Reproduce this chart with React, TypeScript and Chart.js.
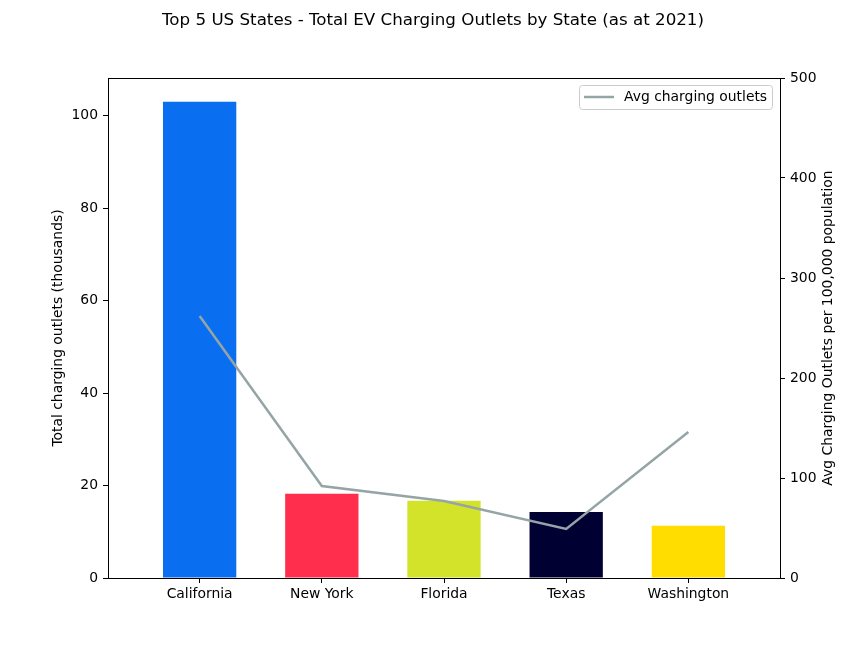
import React, { useEffect, useRef } from "react";
import { Chart, registerables } from "chart.js";

Chart.register(...registerables);

const states = ["California", "New York", "Florida", "Texas", "Washington"];
const totalOutlets = [103.0, 18.2, 16.7, 14.3, 11.3];
const avgOutlets = [262, 92, 77, 49, 146];
const barColors = ["#0a6ef0", "#ff2e4c", "#d2e32a", "#000033", "#ffdd00"];
const leftTicks = [0, 20, 40, 60, 80, 100];
const rightTicks = [0, 100, 200, 300, 400, 500];

const titleText = "Top 5 US States - Total EV Charging Outlets by State (as at 2021)";
const leftTitle = "Total charging outlets (thousands)";
const rightTitle = "Avg Charging Outlets per 100,000 population";
const legendLabel = "Avg charging outlets";

const FONT = "DejaVu Sans";
const FS = 13.9;

const decorPlugin = {
  id: "decor",
  afterDraw(chart: any) {
    const ctx = chart.ctx;
    const a = chart.chartArea;
    ctx.save();
    ctx.strokeStyle = "#000";
    ctx.lineWidth = 1;
    ctx.strokeRect(Math.round(a.left) + 0.5, Math.round(a.top) + 0.5, Math.round(a.right - a.left), Math.round(a.bottom - a.top));
    ctx.fillStyle = "#000";
    ctx.font = `16.7px "${FONT}"`;
    ctx.textAlign = "center";
    ctx.textBaseline = "middle";
    ctx.fillText(titleText, chart.width / 2, 21);
    ctx.font = `${FS}px "${FONT}"`;
    const cy = (a.top + a.bottom) / 2;
    ctx.save();
    ctx.translate(58, cy);
    ctx.rotate(-Math.PI / 2);
    ctx.fillText(leftTitle, 0, 0);
    ctx.restore();
    ctx.save();
    ctx.translate(828, cy);
    ctx.rotate(-Math.PI / 2);
    ctx.fillText(rightTitle, 0, 0);
    ctx.restore();
    const lx = 579.5, ly = 85.5, lw = 193, lh = 24, r = 3;
    ctx.beginPath();
    ctx.moveTo(lx + r, ly);
    ctx.lineTo(lx + lw - r, ly);
    ctx.quadraticCurveTo(lx + lw, ly, lx + lw, ly + r);
    ctx.lineTo(lx + lw, ly + lh - r);
    ctx.quadraticCurveTo(lx + lw, ly + lh, lx + lw - r, ly + lh);
    ctx.lineTo(lx + r, ly + lh);
    ctx.quadraticCurveTo(lx, ly + lh, lx, ly + lh - r);
    ctx.lineTo(lx, ly + r);
    ctx.quadraticCurveTo(lx, ly, lx + r, ly);
    ctx.closePath();
    ctx.fillStyle = "rgba(255,255,255,0.8)";
    ctx.fill();
    ctx.strokeStyle = "#cccccc";
    ctx.lineWidth = 1;
    ctx.stroke();
    ctx.beginPath();
    ctx.moveTo(584, 97);
    ctx.lineTo(614, 97);
    ctx.strokeStyle = "#95a5a6";
    ctx.lineWidth = 2.5;
    ctx.stroke();
    ctx.fillStyle = "#000";
    ctx.textAlign = "left";
    ctx.fillText(legendLabel, 624, 97);
    ctx.restore();
  },
};

export default function App() {
  const ref = useRef<HTMLCanvasElement>(null);
  useEffect(() => {
    const tickFont = { family: FONT, size: FS };
    const chart = new Chart(ref.current!, {
      type: "bar",
      data: {
        datasets: [
          {
            type: "line",
            label: legendLabel,
            data: avgOutlets.map((v, i) => ({ x: i, y: v })),
            borderColor: "#95a5a6",
            borderWidth: 2.5,
            pointRadius: 0,
            yAxisID: "y1",
            xAxisID: "x",
            order: 0,
          } as any,
          {
            type: "bar",
            label: "Total",
            data: totalOutlets.map((v, i) => ({ x: i, y: v })),
            backgroundColor: barColors,
            borderWidth: 0,
            barPercentage: 0.6,
            categoryPercentage: 1,
            yAxisID: "y",
            xAxisID: "x",
            order: 1,
          } as any,
        ],
      },
      options: {
        responsive: false,
        animation: false,
        layout: { padding: { top: 78, left: 0, right: 0, bottom: 0 } },
        plugins: { legend: { display: false }, title: { display: false }, tooltip: { enabled: false } },
        scales: {
          x: {
            type: "linear",
            position: "bottom",
            offset: false,
            min: -0.75,
            max: 4.75,
            afterBuildTicks: (s: any) => {
              s.ticks = states.map((_, i) => ({ value: i }));
            },
            afterFit: (s: any) => {
              s.height = 72;
            },
            ticks: {
              font: tickFont,
              color: "#000",
              padding: 3,
              autoSkip: false,
              maxRotation: 0,
              callback: (v: any) => states[v as number] ?? "",
            },
            grid: { offset: false, drawOnChartArea: false, drawTicks: true, tickLength: 5, color: "#000" },
            border: { display: false },
          },
          y: {
            type: "linear",
            position: "left",
            min: 0,
            max: 108.15,
            afterBuildTicks: (s: any) => {
              s.ticks = leftTicks.map((v) => ({ value: v }));
            },
            afterFit: (s: any) => {
              s.width = 108;
            },
            ticks: { font: tickFont, color: "#000", padding: 5 },
            grid: { drawOnChartArea: false, drawTicks: true, tickLength: 5, color: "#000" },
            border: { display: false },
          },
          y1: {
            type: "linear",
            position: "right",
            min: 0,
            max: 500,
            afterBuildTicks: (s: any) => {
              s.ticks = rightTicks.map((v) => ({ value: v }));
            },
            afterFit: (s: any) => {
              s.width = 86;
            },
            ticks: { font: tickFont, color: "#000", padding: 5 },
            grid: { drawOnChartArea: false, drawTicks: true, tickLength: 5, color: "#000" },
            border: { display: false },
          },
        },
      } as any,
      plugins: [decorPlugin],
    });
    return () => chart.destroy();
  }, []);
  return (
    <div style={{ position: "absolute", left: 0, top: 0, width: 866, height: 650, background: "#fff" }}>
      <canvas ref={ref} width={866} height={650} style={{ display: "block", width: 866, height: 650 }} />
    </div>
  );
}
